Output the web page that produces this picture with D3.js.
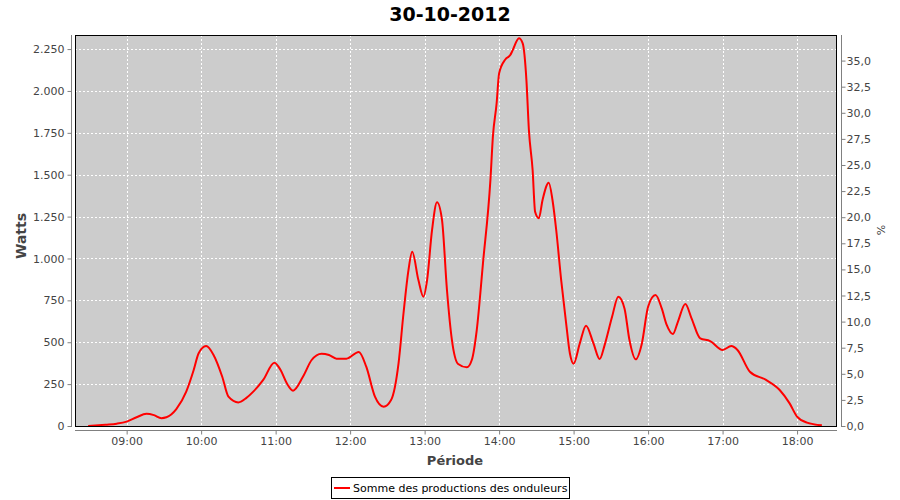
<!DOCTYPE html>
<html>
<head>
<meta charset="utf-8">
<script src="https://cdn.jsdelivr.net/npm/d3@7"></script>
<style>
  html, body { margin: 0; padding: 0; background: #fff; }
  svg { display: block; font-family: "DejaVu Sans", sans-serif; }
</style>
</head>
<body>
<svg id="chart" width="900" height="500"></svg>
<script>
// ---- Data ----
const chartTitle = "30-10-2012";
const seriesName = "Somme des productions des onduleurs";
const times = ["08:29","08:43","08:52","09:00","09:08","09:16","09:22","09:28","09:32","09:40",
  "09:48","09:54","09:58","10:04","10:10","10:17","10:22","10:30","10:36","10:42",
  "10:50","10:59","11:04","11:09","11:14","11:22","11:29","11:37","11:43","11:49",
  "11:57","12:07","12:13","12:20","12:27","12:33","12:39","12:43","12:47","12:50",
  "12:55","12:59","13:02","13:06","13:10","13:14","13:18","13:22","13:27","13:34",
  "13:38","13:42","13:47","13:53","13:55","13:58","14:00","14:05","14:09","14:11",
  "14:16","14:19","14:22","14:24","14:27","14:29","14:32","14:35","14:40","14:43",
  "14:46","14:50","14:54","14:57","15:00","15:05","15:10","15:16","15:21","15:25",
  "15:31","15:36","15:41","15:45","15:50","15:55","16:00","16:06","16:11","16:15",
  "16:20","16:24","16:30","16:35","16:42","16:50","17:00","17:07","17:12","17:22",
  "17:35","17:46","17:54","18:00","18:08","18:20"];
const watts = [0,8,14,26,52,73,65,47,52,101,
  205,334,434,477,424,294,175,141,165,205,
  275,378,334,255,211,294,394,432,424,402,
  402,442,354,175,115,155,374,673,931,1040,
  871,772,871,1170,1335,1230,812,513,370,350,
  394,573,971,1468,1727,1926,2105,2188,2214,2244,
  2314,2284,2065,1767,1528,1279,1240,1349,1452,1349,
  1170,871,613,434,372,493,599,493,400,483,
  652,772,702,513,398,493,712,782,702,603,
  549,622,728,643,523,507,454,477,454,324,
  275,215,135,56,20,4];
const leftTicks = [0,250,500,750,1000,1250,1500,1750,2000,2250];
const rightTicks = [0,2.5,5,7.5,10,12.5,15,17.5,20,22.5,25,27.5,30,32.5,35];
const hourTicks = ["09:00","10:00","11:00","12:00","13:00","14:00","15:00","16:00","17:00","18:00"];
const domainStart = "08:18:24";
const domainEnd = "18:32:10";
const leftMax = 2334;     // Watts at the top of the plot
const rightMax = 37.45;   // % at the top of the plot

// ---- Layout ----
const svg = d3.select("#chart");
const plot = { left: 75, right: 837, top: 35, bottom: 426 };
const parseT = s => {
  const p = s.split(":").map(Number);
  return new Date(Date.UTC(2012, 9, 30, p[0], p[1], p[2] || 0));
};

const x = d3.scaleUtc().domain([parseT(domainStart), parseT(domainEnd)]).range([plot.left, plot.right]);
const y = d3.scaleLinear().domain([0, leftMax]).range([plot.bottom, plot.top]);
const yR = d3.scaleLinear().domain([0, rightMax]).range([plot.bottom, plot.top]);

const data = times.map((t, i) => ({ t: parseT(t), v: watts[i] }));
const hourDates = hourTicks.map(parseT);

// Title
svg.append("text").attr("x", 450).attr("y", 21).attr("text-anchor", "middle")
  .attr("font-size", 19).attr("font-weight", "bold").attr("fill", "#000").text(chartTitle);

// Plot background
svg.append("rect").attr("x", plot.left).attr("y", plot.top)
  .attr("width", plot.right - plot.left).attr("height", plot.bottom - plot.top)
  .attr("fill", "#cccccc");

// Grid lines
const grid = svg.append("g").attr("stroke", "#fff").attr("stroke-width", 1).attr("stroke-dasharray", "2,2");
grid.selectAll("line.h").data(leftTicks.filter(d => d > 0)).enter().append("line")
  .attr("x1", plot.left).attr("x2", plot.right)
  .attr("y1", d => Math.round(y(d)) + 0.5).attr("y2", d => Math.round(y(d)) + 0.5);
grid.selectAll("line.v").data(hourDates).enter().append("line")
  .attr("y1", plot.top).attr("y2", plot.bottom)
  .attr("x1", d => Math.round(x(d)) + 0.5).attr("x2", d => Math.round(x(d)) + 0.5);

// Series line
const clipId = "plotclip";
svg.append("clipPath").attr("id", clipId).append("rect")
  .attr("x", plot.left).attr("y", plot.top).attr("width", plot.right - plot.left).attr("height", plot.bottom - plot.top);
svg.append("path").datum(data)
  .attr("clip-path", `url(#${clipId})`)
  .attr("fill", "none").attr("stroke", "#ff0000").attr("stroke-width", 2)
  .attr("stroke-linejoin", "round")
  .attr("d", d3.line().x(d => x(d.t)).y(d => y(d.v)).curve(d3.curveMonotoneX));

// Plot border
svg.append("rect").attr("x", plot.left + 0.5).attr("y", plot.top + 0.5)
  .attr("width", plot.right - plot.left - 1).attr("height", plot.bottom - plot.top)
  .attr("fill", "none").attr("stroke", "#000").attr("stroke-width", 1);

const axisColor = "#808080";
const labelColor = "#444444";

// Left axis
const yAxis = d3.axisLeft(y).tickValues(leftTicks).tickSize(4).tickPadding(3)
  .tickFormat(d => d3.format(",")(d).replace(/,/g, "."));
const gL = svg.append("g").attr("transform", `translate(71.5,0)`).call(yAxis);
gL.select(".domain").attr("stroke", axisColor).attr("d", `M0,${plot.top}V${plot.bottom + 1}`);
gL.selectAll(".tick line").attr("stroke", axisColor);
gL.selectAll(".tick text").attr("fill", labelColor).attr("font-size", 11).attr("font-family", "DejaVu Sans");

// Right axis
const yRAxis = d3.axisRight(yR).tickValues(rightTicks).tickSize(4).tickPadding(1)
  .tickFormat(d => d3.format(".1f")(d).replace(".", ","));
const gR = svg.append("g").attr("transform", `translate(841.5,0)`).call(yRAxis);
gR.select(".domain").attr("stroke", axisColor).attr("d", `M0,${plot.top}V${plot.bottom + 1}`);
gR.selectAll(".tick line").attr("stroke", axisColor);
gR.selectAll(".tick text").attr("fill", labelColor).attr("font-size", 11).attr("font-family", "DejaVu Sans");

// Bottom axis
const xAxis = d3.axisBottom(x).tickValues(hourDates).tickSize(4).tickPadding(3)
  .tickFormat(d3.utcFormat("%H:%M"));
const gB = svg.append("g").attr("transform", `translate(0,430.5)`).call(xAxis);
gB.select(".domain").attr("stroke", axisColor).attr("d", `M${plot.left},0H${plot.right}`);
gB.selectAll(".tick line").attr("stroke", axisColor);
gB.selectAll(".tick text").attr("fill", labelColor).attr("font-size", 11).attr("font-family", "DejaVu Sans");

// Axis titles
svg.append("text").attr("transform", "translate(26,236) rotate(-90)").attr("text-anchor", "middle")
  .attr("font-size", 14).attr("font-weight", "bold").attr("fill", labelColor).text("Watts");
svg.append("text").attr("transform", "translate(885,230) rotate(-90)").attr("text-anchor", "middle")
  .attr("font-size", 11).attr("fill", labelColor).text("%");
svg.append("text").attr("x", 455).attr("y", 465).attr("text-anchor", "middle")
  .attr("font-size", 13).attr("font-weight", "bold").attr("fill", labelColor).text("Période");

// Legend
const lg = svg.append("g");
lg.append("rect").attr("x", 331.5).attr("y", 477.5).attr("width", 238).attr("height", 21)
  .attr("fill", "#fff").attr("stroke", "#000");
lg.append("line").attr("x1", 334).attr("x2", 350).attr("y1", 488).attr("y2", 488)
  .attr("stroke", "#ff0000").attr("stroke-width", 2);
lg.append("text").attr("x", 353).attr("y", 492).attr("font-size", 11).attr("fill", "#000")
  .text(seriesName);
</script>
</body>
</html>
